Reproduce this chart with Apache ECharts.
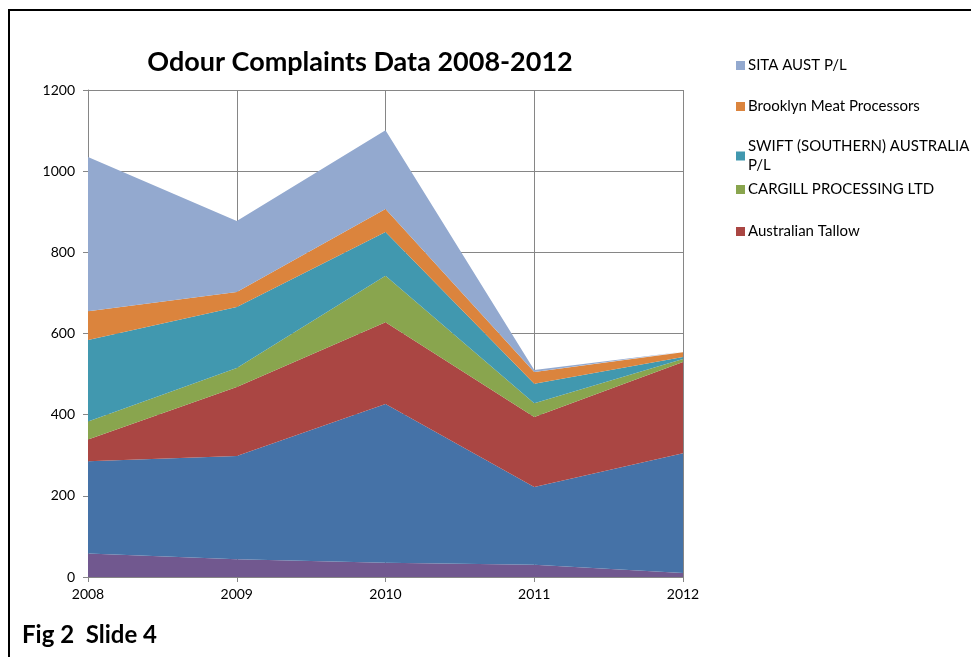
<!DOCTYPE html>
<html><head><meta charset="utf-8">
<script src="https://cdn.jsdelivr.net/npm/echarts@6/dist/echarts.min.js"></script>
<style>html,body{margin:0;padding:0;background:#fff}#c{width:971px;height:657px}</style>
</head><body><div id="c"></div>
<script>
const years = ['2008','2009','2010','2011','2012'];
const seriesNames = ['Series A','Series B','Australian Tallow','CARGILL PROCESSING LTD','SWIFT (SOUTHERN) AUSTRALIA P/L','Brooklyn Meat Processors','SITA AUST P/L'];
const purpleVals = [58, 44, 35, 30, 10];
const blueVals = [227, 254, 391, 192, 295];
const tallowVals = [54, 170, 202, 172, 225];
const cargillVals = [44, 47, 114, 34, 7];
const swiftVals = [201, 150, 108, 48, 5];
const brooklynVals = [71, 37, 57, 29, 12];
const sitaVals = [380, 175, 194, 5, 1];
const yTicks = [0, 200, 400, 600, 800, 1000, 1200];

const colors = ['#71588F','#4572A7','#AA4643','#89A54E','#4198AF','#DB843D','#93A9CF'];
const allVals = [purpleVals, blueVals, tallowVals, cargillVals, swiftVals, brooklynVals, sitaVals];
const font = 'Lato, "Open Sans", sans-serif';

const legendTops = {'SITA AUST P/L':56,'Brooklyn Meat Processors':97,'SWIFT (SOUTHERN) AUSTRALIA P/L':137,'CARGILL PROCESSING LTD':180,'Australian Tallow':222};
const legends = Object.keys(legendTops).map(n => ({
  data:[n], left:736, top:legendTops[n], orient:'vertical',
  itemWidth:9, itemHeight:9, itemGap:0, icon:'rect', padding:0,
  formatter: v => v === 'SWIFT (SOUTHERN) AUSTRALIA P/L' ? 'SWIFT (SOUTHERN) AUSTRALIA\nP/L' : v,
  textStyle:{fontFamily:font, fontSize:15, color:'#000', lineHeight:19, padding:[0,0,0,-2]}
}));

const chart = echarts.init(document.getElementById('c'), null, {renderer:'canvas'});
chart.setOption({
  animation:false,
  color: colors,
  title:{text:'Odour Complaints Data 2008-2012', left:355, textAlign:'center', top:44,
    textStyle:{fontFamily:font, fontWeight:'bold', fontSize:27, color:'#000'}},
  legend: legends,
  grid:{left:88, right:288, top:90, bottom:80},
  xAxis:{type:'category', data:years, boundaryGap:false,
    axisLine:{lineStyle:{color:'#868686'}},
    axisTick:{show:true, length:5, lineStyle:{color:'#868686'}},
    axisLabel:{fontFamily:font, fontSize:14, color:'#000', margin:10},
    splitLine:{show:true, lineStyle:{color:'#868686', width:1}}},
  yAxis:{type:'value', min:yTicks[0], max:yTicks[yTicks.length-1], interval:200,
    axisLine:{show:true, lineStyle:{color:'#868686'}},
    axisTick:{show:true, length:5, lineStyle:{color:'#868686'}},
    axisLabel:{fontFamily:font, fontSize:14, color:'#000', margin:13, formatter: v => String(v)},
    splitLine:{show:true, lineStyle:{color:'#868686', width:1}}},
  graphic:[
    {type:'rect', shape:{x:9, y:10, width:980, height:700}, style:{fill:'none', stroke:'#000', lineWidth:2}, silent:true},
    {type:'text', left:22, top:623, style:{text:'Fig 2  Slide 4', font:'bold 24px '+font, fill:'#000'}}
  ],
  series: seriesNames.map((n,i) => ({
    name:n, type:'line', stack:'total', data:allVals[i], showSymbol:false, symbol:'none',
    lineStyle:{width:0}, areaStyle:{color:colors[i], opacity:1}, itemStyle:{color:colors[i]}
  }))
});
</script></body></html>
